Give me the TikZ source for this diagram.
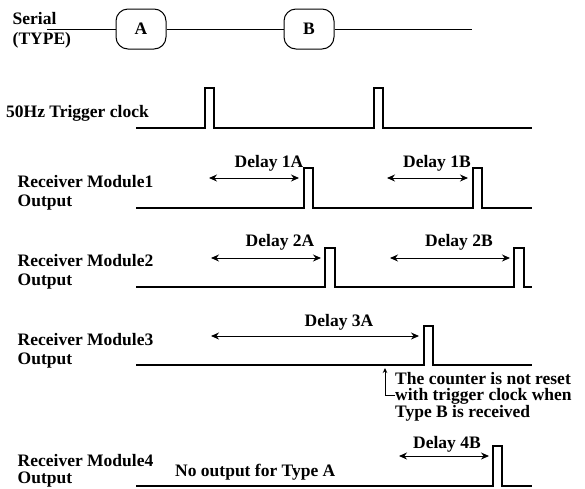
\documentclass[tikz,border=0pt]{standalone}
\usepackage{fontspec}
\setmainfont{Liberation Serif}
\usetikzlibrary{arrows.meta}
\begin{document}
\begin{tikzpicture}[x=1pt,y=-1pt,
  every node/.style={font=\fontsize{17.5}{16}\selectfont\bfseries, inner sep=0pt},
  lbl/.style={anchor=base west},
  sig/.style={line width=1.2pt, line join=miter},
  wire/.style={line width=1pt},
  typebox/.style={draw, line width=1pt, rounded corners=12pt, minimum width=50pt, minimum height=40pt},
  span/.style={line width=1pt, {Stealth[length=8pt,width=7pt]}-{Stealth[length=8pt,width=7pt]}},
  note/.style={line width=0.9pt, -{Stealth[length=5pt,width=4.5pt]}}]
\useasboundingbox (0,0) rectangle (585,488);

% serial message line
\node[lbl] (serial) at (12.5,24) {Serial};
\node[lbl] (type) at (12.5,44.5) {(TYPE)};
\coordinate (s0) at (47,29);
\node[typebox] (A) at (141,29) {A};
\node[typebox] (B) at (309,29) {B};
\coordinate (s1) at (472,29);
\draw[wire] (s0) -- (A) -- (B) -- (s1);

% trigger clock
\node[lbl] (trig) at (6,117) {50Hz Trigger clock};
\draw[sig] (136,128) -- (205,128) -- (205,88) -- (214,88) -- (214,128)
  -- (374,128) -- (374,88) -- (383,88) -- (383,128) -- (532,128);

% module 1
\node[lbl] (m1) at (17.5,187) {Receiver Module1};
\node[lbl] (o1) at (17.5,206) {Output};
\draw[sig] (136,208) -- (304,208) -- (304,168) -- (313,168) -- (313,208)
  -- (473,208) -- (473,168) -- (482,168) -- (482,208) -- (532,208);
\coordinate (a1s) at (209,178); \coordinate (a1e) at (299,178);
\coordinate (b1s) at (387,178); \coordinate (b1e) at (468,178);
\draw[span] (a1s) -- (a1e);
\draw[span] (b1s) -- (b1e);
\node (d1a) at (269,163) {Delay 1A};
\node (d1b) at (437,163) {Delay 1B};

% module 2
\node[lbl] (m2) at (17.5,266) {Receiver Module2};
\node[lbl] (o2) at (17.5,285) {Output};
\draw[sig] (136,287) -- (325,287) -- (325,248) -- (335,248) -- (335,287)
  -- (514,287) -- (514,248) -- (524,248) -- (524,287) -- (532,287);
\coordinate (a2s) at (211,258); \coordinate (a2e) at (321,258);
\coordinate (b2s) at (390,258); \coordinate (b2e) at (510,258);
\draw[span] (a2s) -- (a2e);
\draw[span] (b2s) -- (b2e);
\node (d2a) at (280,242) {Delay 2A};
\node (d2b) at (459,242) {Delay 2B};

% module 3
\node[lbl] (m3) at (17.5,345) {Receiver Module3};
\node[lbl] (o3) at (17.5,364) {Output};
\draw[sig] (136,365) -- (424,365) -- (424,326) -- (433,326) -- (433,365) -- (532,365);
\coordinate (a3s) at (211,336); \coordinate (a3e) at (419,336);
\draw[span] (a3s) -- (a3e);
\node (d3a) at (339,322) {Delay 3A};

% note on module 3
\node[anchor=north west, align=left] (nt) at (395,372)
  {The counter is not reset\\with trigger clock when\\Type B is received};
\coordinate (nk) at (385,395);
\coordinate (nt0) at (395,395);
\coordinate (ntip) at (385,368);
\draw[note] (nt0) -- (nk) -- (ntip);

% module 4
\node[lbl] (m4) at (17.5,466) {Receiver Module4};
\node[lbl] (o4) at (17.5,483.5) {Output};
\node[lbl] (none) at (175,476) {No output for Type A};
\draw[sig] (136,486) -- (493,486) -- (493,446) -- (502,446) -- (502,486) -- (532,486);
\coordinate (a4s) at (399,456); \coordinate (a4e) at (489,456);
\draw[span] (a4s) -- (a4e);
\node (d4b) at (447,444) {Delay 4B};
\end{tikzpicture}
\end{document}
